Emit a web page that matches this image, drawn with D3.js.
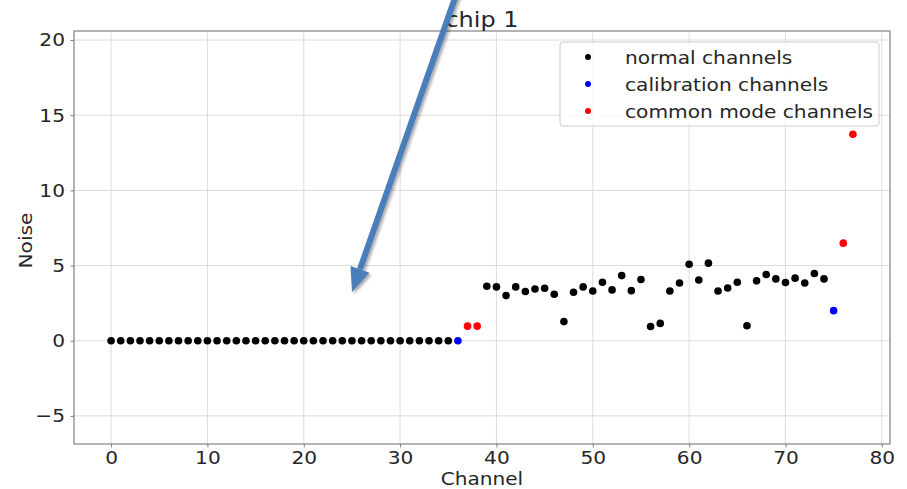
<!DOCTYPE html>
<html>
<head>
<meta charset="utf-8">
<script src="https://cdn.jsdelivr.net/npm/d3@7"></script>
<style>
  body { margin: 0; background: #fff; }
  svg { display: block; font-family: "DejaVu Sans", sans-serif; }
</style>
</head>
<body>
<div id="chart"></div>
<script>
// channels 0..35 are flat at zero
const normalChannels = d3.range(0, 36).concat(d3.range(39, 75));
const normalNoise = [
  0, 0, 0, 0, 0, 0, 0, 0, 0, 0, 0, 0, 0, 0, 0, 0, 0, 0,
  0, 0, 0, 0, 0, 0, 0, 0, 0, 0, 0, 0, 0, 0, 0, 0, 0, 0,
  3.62, 3.58, 3.0, 3.58, 3.27, 3.44, 3.49, 3.09, 1.27, 3.22,
  3.58, 3.31, 3.89, 3.38, 4.33, 3.33, 4.07, 0.95, 1.15, 3.31,
  3.84, 5.09, 4.04, 5.16, 3.31, 3.51, 3.89, 1.0, 3.98, 4.4,
  4.11, 3.87, 4.16, 3.84, 4.47, 4.11
];
const calibChannels = [36, 75];
const calibNoise = [0, 2.0];
const cmChannels = [37, 38, 76, 77];
const cmNoise = [0.97, 0.97, 6.49, 13.73];

const xTicks = [0, 10, 20, 30, 40, 50, 60, 70, 80];
const yTicks = [-5, 0, 5, 10, 15, 20];
const legendItems = [
  { label: 'normal channels', color: '#000000' },
  { label: 'calibration channels', color: '#0000ff' },
  { label: 'common mode channels', color: '#ff0000' }
];

const FS = 18.5;     // font size
const SX = 1.09;     // the glyphs are a bit wider than plain DejaVu
const INK = '#262626';

class ScatterChart {
  constructor(_parentElement) {
    this.parentElement = _parentElement;
    this.initVis();
  }

  label(x, y, txt, size, rot, sx) {
    const vis = this;
    return vis.svg.append('text')
      .attr('transform', 'translate(' + x + ',' + y + ')' + (rot ? ' rotate(' + rot + ')' : '') + ' scale(' + (sx || SX) + ',1)')
      .attr('font-size', size).attr('fill', INK)
      .text(txt);
  }

  initVis() {
    const vis = this;

    vis.margin = { left: 74, right: 17, top: 31, bottom: 45 };
    vis.width = 907 - vis.margin.left - vis.margin.right;
    vis.height = 489 - vis.margin.top - vis.margin.bottom;

    vis.svg = d3.select(vis.parentElement)
      .append('svg')
      .attr('width', 907)
      .attr('height', 489);

    vis.g = vis.svg.append('g')
      .attr('transform', 'translate(' + vis.margin.left + ', ' + vis.margin.top + ')');

    vis.x = d3.scaleLinear().domain([-3.85, 80.85]).range([0, vis.width]);
    vis.y = d3.scaleLinear().domain([-6.87, 20.6]).range([vis.height, 0]);

    // grid
    vis.g.append('g')
      .selectAll('line')
      .data(xTicks)
      .join('line')
      .attr('x1', d => vis.x(d)).attr('x2', d => vis.x(d))
      .attr('y1', 0).attr('y2', vis.height)
      .attr('stroke', '#dcdcdc').attr('stroke-width', 1);

    vis.g.append('g')
      .selectAll('line')
      .data(yTicks)
      .join('line')
      .attr('y1', d => vis.y(d)).attr('y2', d => vis.y(d))
      .attr('x1', 0).attr('x2', vis.width)
      .attr('stroke', '#dcdcdc').attr('stroke-width', 1);

    // axes
    const xAxis = vis.g.append('g')
      .attr('transform', 'translate(0, ' + vis.height + ')')
      .call(d3.axisBottom(vis.x).tickValues(xTicks).tickSize(3.5).tickPadding(3.5));
    const yAxis = vis.g.append('g')
      .call(d3.axisLeft(vis.y).tickValues(yTicks).tickSize(3.5)
        .tickFormat(d => d < 0 ? '\u2212' + Math.abs(d) : d));

    [xAxis, yAxis].forEach(a => {
      a.select('.domain').remove();
      a.selectAll('text').attr('font-size', FS).attr('fill', INK)
        .attr('font-family', '"DejaVu Sans", sans-serif')
        .attr('transform', 'scale(' + SX + ',1)');
      a.selectAll('line').attr('stroke', '#808080');
    });
    yAxis.selectAll('text').attr('x', -9 / SX);

    vis.g.append('rect')
      .attr('width', vis.width).attr('height', vis.height)
      .attr('fill', 'none').attr('stroke', '#808080').attr('stroke-width', 1.2);

    // points
    const drawPoints = (xs, ys, color) => {
      vis.g.append('g')
        .selectAll('circle')
        .data(xs.map((c, i) => [c, ys[i]]))
        .join('circle')
        .attr('cx', d => vis.x(d[0]))
        .attr('cy', d => vis.y(d[1]))
        .attr('r', 3.8)
        .attr('fill', color);
    };
    drawPoints(normalChannels, normalNoise, legendItems[0].color);
    drawPoints(calibChannels, calibNoise, legendItems[1].color);
    drawPoints(cmChannels, cmNoise, legendItems[2].color);

    // labels
    const cx = vis.margin.left + vis.width / 2;
    vis.label(cx, 27, 'chip 1', 22).attr('text-anchor', 'middle');
    vis.label(cx, 484.8, 'Channel', 17, null, 1.18).attr('text-anchor', 'middle');
    vis.label(32, vis.margin.top + vis.height / 2 + 3, 'Noise', FS, -90).attr('text-anchor', 'middle');

    // legend
    const lg = vis.svg.append('g').attr('transform', 'translate(560, 42)');
    lg.append('rect')
      .attr('width', 319).attr('height', 84).attr('rx', 3)
      .attr('fill', 'rgba(255,255,255,0.8)').attr('stroke', '#cccccc');
    legendItems.forEach((it, i) => {
      lg.append('circle').attr('cx', 28).attr('cy', 15 + i * 27).attr('r', 3).attr('fill', it.color);
      lg.append('text')
        .attr('transform', 'translate(65,' + (21.5 + i * 27) + ') scale(' + SX + ',1)')
        .attr('font-size', FS).attr('fill', INK).text(it.label);
    });

    // annotation arrow
    const defs = vis.svg.append('defs');
    defs.append('filter').attr('id', 'shadow')
      .append('feDropShadow').attr('dx', 2).attr('dy', 2).attr('stdDeviation', 1.5)
      .attr('flood-color', '#000').attr('flood-opacity', 0.35);
    const x0 = 456, y0 = -5, x1 = 352, y1 = 292;
    const ang = Math.atan2(y1 - y0, x1 - x0);
    const headLen = 24, headW = 10;
    const bx = x1 - headLen * Math.cos(ang), by = y1 - headLen * Math.sin(ang);
    const px = -Math.sin(ang), py = Math.cos(ang);
    const arrow = vis.svg.append('g').attr('filter', 'url(#shadow)');
    arrow.append('line')
      .attr('x1', x0).attr('y1', y0).attr('x2', bx).attr('y2', by)
      .attr('stroke', '#4a7ebb').attr('stroke-width', 6);
    arrow.append('path')
      .attr('d', 'M' + x1 + ',' + y1 +
        'L' + (bx + px * headW) + ',' + (by + py * headW) +
        'L' + (bx - px * headW) + ',' + (by - py * headW) + 'Z')
      .attr('fill', '#4a7ebb');
  }
}

new ScatterChart('#chart');
</script>
</body>
</html>
